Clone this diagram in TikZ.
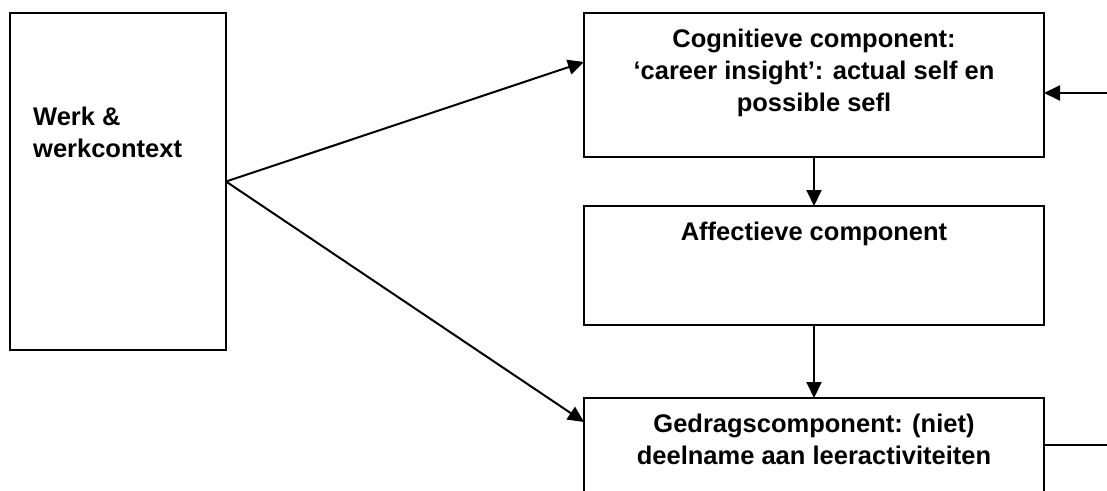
\documentclass[tikz,border=0pt]{standalone}
\usepackage{fontspec}
\setmainfont{Liberation Sans}
\usetikzlibrary{arrows.meta}

\begin{document}
\begin{tikzpicture}[x=1pt, y=-1pt,
  box/.style={draw=black, line width=2pt, minimum width=460pt, inner sep=0pt, outer sep=0pt},
  lbl/.style={font=\fontsize{25.5}{32}\selectfont\bfseries, inner sep=0pt, align=center},
  conn/.style={line width=2pt, -{Triangle[length=16pt, width=15pt]}}]
  \useasboundingbox (0,0) rectangle (1107,490);
  \clip (0,0) rectangle (1107,490);
  \node[box, minimum width=216pt, minimum height=337pt] (werk) at (118,181.5) {};
  \node[box, minimum height=144pt] (cog) at (814,85) {};
  \node[box, minimum height=119pt] (aff) at (814,265.5) {};
  \node[box, minimum height=144pt] (ged) at (814,470) {};
  \node[lbl, align=left, anchor=north west] (werktxt) at ([xshift=23pt, yshift=-94pt]werk.north west) {Werk \&\\werkcontext};
  \node[lbl, anchor=north] (cogtxt) at ([yshift=-16pt]cog.north) {Cognitieve component:\\‘career insight’: actual self en\\possible sefl};
  \node[lbl, anchor=north] (afftxt) at ([yshift=-16pt]aff.north) {Affectieve component};
  \node[lbl, anchor=north] (gedtxt) at ([yshift=-16pt]ged.north) {Gedragscomponent: (niet)\\deelname aan leeractiviteiten};
  \coordinate (in1) at (1107,93);
  \coordinate (out1) at (1107,445);
  \draw[conn] (werk.east) -- ([yshift=23pt]cog.west);
  \draw[conn] (werk.east) -- ([yshift=-24pt]ged.north west);
  \draw[conn] (cog.south) -- (aff.north);
  \draw[conn] (aff.south) -- (ged.north);
  \draw[conn] (in1) -- ([yshift=-8pt]cog.east);
  \draw[line width=2pt] ([yshift=-47pt]ged.north east) -- (out1);
\end{tikzpicture}
\end{document}
